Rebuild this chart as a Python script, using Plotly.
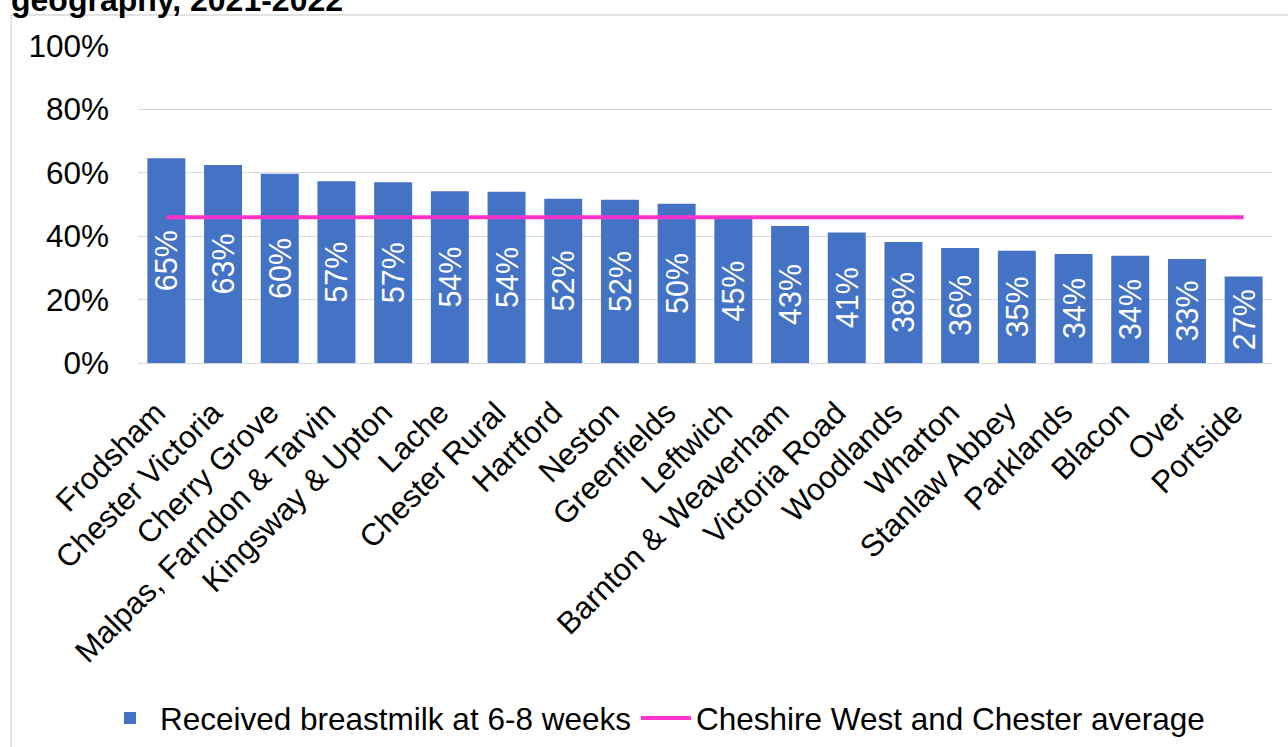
import plotly.graph_objects as go

categories = ["Frodsham", "Chester Victoria", "Cherry Grove", "Malpas, Farndon & Tarvin",
              "Kingsway & Upton", "Lache", "Chester Rural", "Hartford", "Neston", "Greenfields",
              "Leftwich", "Barnton & Weaverham", "Victoria Road", "Woodlands", "Wharton",
              "Stanlaw Abbey", "Parklands", "Blacon", "Over", "Portside"]
breastmilk = [0.646, 0.625, 0.597, 0.573, 0.570, 0.542, 0.540, 0.518, 0.515, 0.502,
              0.454, 0.432, 0.412, 0.382, 0.363, 0.354, 0.344, 0.338, 0.328, 0.273]
average = [0.46] * len(categories)
title_text = "geography, 2021-2022"

W, H = 1288, 747
L, R, T, B = 138, 16, 46, 384
pw, ph = W - L - R, H - T - B

def px_x(x):
    return (x - L) / pw

def px_y(y):
    return (H - B - y) / ph

FONT = "Liberation Sans, Arial, sans-serif"

fig = go.Figure()
fig.add_trace(go.Bar(
    x=categories, y=breastmilk, name="Received breastmilk at 6-8 weeks",
    marker=dict(color="#4472C4", line=dict(width=0)),
    width=0.67,
    texttemplate="%{y:.0%}", textposition="inside", insidetextanchor="middle",
    textangle=-90, constraintext="none",
    textfont=dict(color="white", size=30.5, family=FONT),
))
fig.add_trace(go.Scatter(
    x=categories, y=average, name="Cheshire West and Chester average",
    mode="lines", line=dict(color="#FF33CC", width=4),
))

fig.update_layout(
    width=W, height=H,
    margin=dict(l=L, r=R, t=T, b=B, pad=0, autoexpand=False),
    paper_bgcolor="white", plot_bgcolor="white",
    font=dict(family=FONT, color="black"),
    showlegend=True,
    legend=dict(orientation="h", xref="container", yref="container",
                x=655 / W, y=1 - 718 / H, xanchor="center", yanchor="middle",
                font=dict(size=31.5, family=FONT), traceorder="normal", itemwidth=50,
                bgcolor="rgba(0,0,0,0)"),
    bargap=0.33,
)
fig.update_yaxes(range=[0, 1.0], tickformat=".0%", dtick=0.2, showgrid=True,
                 gridcolor="#D9D9D9", gridwidth=1.3, zeroline=False,
                 tickfont=dict(size=31.5, family=FONT), ticklabelstandoff=28, showline=False)
fig.update_xaxes(tickangle=-45, tickfont=dict(size=31, family=FONT), showline=True,
                 linecolor="#D9D9D9", linewidth=1.3, showgrid=False,
                 ticklabelstandoff=18, ticklabelshift=-10)

fig.add_shape(type="rect", xref="paper", yref="paper",
              x0=px_x(11), x1=px_x(1310), y0=px_y(780), y1=px_y(15),
              line=dict(color="#D9D9D9", width=1.3), fillcolor="rgba(0,0,0,0)", layer="below")

fig.add_annotation(text="<b>" + title_text + "</b>", xref="paper", yref="paper",
                   x=px_x(9), y=px_y(20), xanchor="left", yanchor="bottom",
                   showarrow=False, font=dict(size=32, family=FONT, color="black"))

fig.write_html("out.html")
